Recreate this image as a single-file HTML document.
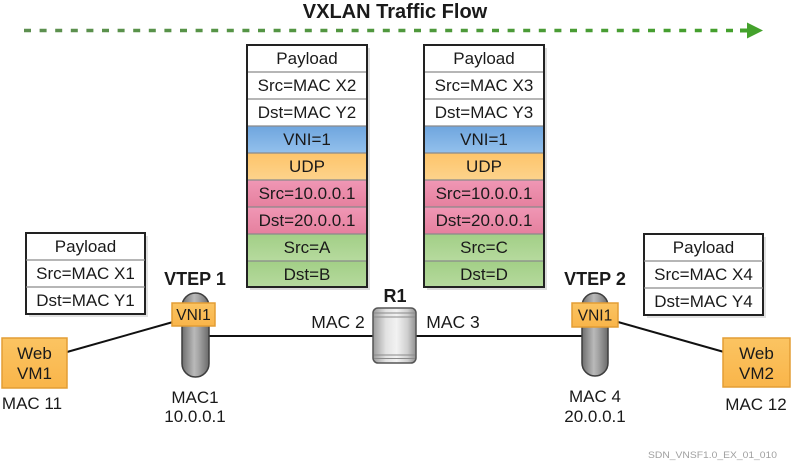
<!DOCTYPE html>
<html>
<head>
<meta charset="utf-8">
<style>
html,body{margin:0;padding:0;background:#fff;}
svg{display:block;}
text{font-family:"Liberation Sans",Arial,sans-serif;fill:#1a1a1a;}
</style>
</head>
<body>
<svg width="797" height="462" viewBox="0 0 797 462" xmlns="http://www.w3.org/2000/svg">
<defs>
  <linearGradient id="gline" gradientUnits="userSpaceOnUse" x1="24" y1="0" x2="742" y2="0">
    <stop offset="0" stop-color="#5d8f50"/>
    <stop offset="1" stop-color="#43a02c"/>
  </linearGradient>
  <linearGradient id="blue" x1="0" y1="0" x2="0" y2="1">
    <stop offset="0" stop-color="#6fa5de"/>
    <stop offset="1" stop-color="#93c0ec"/>
  </linearGradient>
  <linearGradient id="orange" x1="0" y1="0" x2="0" y2="1">
    <stop offset="0" stop-color="#fdc46a"/>
    <stop offset="1" stop-color="#fdd38c"/>
  </linearGradient>
  <linearGradient id="pink" x1="0" y1="0" x2="0" y2="1">
    <stop offset="0" stop-color="#f097b5"/>
    <stop offset="1" stop-color="#e5809e"/>
  </linearGradient>
  <linearGradient id="green" x1="0" y1="0" x2="0" y2="1">
    <stop offset="0" stop-color="#a2cf86"/>
    <stop offset="1" stop-color="#b6da9e"/>
  </linearGradient>
  <linearGradient id="vm" x1="0" y1="0" x2="0" y2="1">
    <stop offset="0" stop-color="#fbc462"/>
    <stop offset="1" stop-color="#f9b54a"/>
  </linearGradient>
  <linearGradient id="cyl" x1="0" y1="0" x2="1" y2="0">
    <stop offset="0" stop-color="#6e6e6e"/>
    <stop offset="0.45" stop-color="#b9b9b9"/>
    <stop offset="0.6" stop-color="#a8a8a8"/>
    <stop offset="1" stop-color="#6a6a6a"/>
  </linearGradient>
  <linearGradient id="rcyl" x1="0" y1="0" x2="1" y2="0">
    <stop offset="0" stop-color="#9a9a9a"/>
    <stop offset="0.3" stop-color="#e2e2e2"/>
    <stop offset="0.55" stop-color="#f2f2f2"/>
    <stop offset="0.8" stop-color="#cfcfcf"/>
    <stop offset="1" stop-color="#8f8f8f"/>
  </linearGradient>
</defs>

<!-- Title -->
<text x="395" y="18" font-size="20" font-weight="bold" text-anchor="middle">VXLAN Traffic Flow</text>

<!-- dotted flow arrow -->
<line x1="24" y1="30.5" x2="742" y2="30.5" stroke="url(#gline)" stroke-width="3.5" stroke-dasharray="7 8.6"/>
<polygon points="740,28.5 747,28.5 747,22.5 763,30.5 747,38.5 747,32.5 740,32.5" fill="#44a22c"/>

<!-- Left packet stack -->
<g>
  <rect x="250" y="48" width="120" height="242" fill="#cfcfcf" opacity="0.7"/>
  <rect x="247" y="45" width="120" height="27" fill="#fff"/>
  <rect x="247" y="72" width="120" height="27" fill="#fff"/>
  <rect x="247" y="99" width="120" height="27" fill="#fff"/>
  <rect x="247" y="126" width="120" height="27" fill="url(#blue)"/>
  <rect x="247" y="153" width="120" height="27" fill="url(#orange)"/>
  <rect x="247" y="180" width="120" height="27" fill="url(#pink)"/>
  <rect x="247" y="207" width="120" height="27" fill="url(#pink)"/>
  <rect x="247" y="234" width="120" height="27" fill="url(#green)"/>
  <rect x="247" y="261" width="120" height="26" fill="url(#green)"/>
  <g stroke="#8a8a8a" stroke-width="1.2">
    <line x1="247" y1="72" x2="367" y2="72"/>
    <line x1="247" y1="99" x2="367" y2="99"/>
    <line x1="247" y1="126" x2="367" y2="126"/>
    <line x1="247" y1="153" x2="367" y2="153"/>
    <line x1="247" y1="180" x2="367" y2="180"/>
    <line x1="247" y1="207" x2="367" y2="207"/>
    <line x1="247" y1="234" x2="367" y2="234"/>
    <line x1="247" y1="261" x2="367" y2="261"/>
  </g>
  <rect x="247" y="45" width="120" height="242" fill="none" stroke="#222" stroke-width="2"/>
  <g font-size="17" text-anchor="middle">
    <text x="307" y="64">Payload</text>
    <text x="307" y="91">Src=MAC X2</text>
    <text x="307" y="118">Dst=MAC Y2</text>
    <text x="307" y="145">VNI=1</text>
    <text x="307" y="172">UDP</text>
    <text x="307" y="199">Src=10.0.0.1</text>
    <text x="307" y="226">Dst=20.0.0.1</text>
    <text x="307" y="253">Src=A</text>
    <text x="307" y="280">Dst=B</text>
  </g>
</g>

<!-- Right packet stack -->
<g>
  <rect x="427" y="48" width="120" height="242" fill="#cfcfcf" opacity="0.7"/>
  <rect x="424" y="45" width="120" height="27" fill="#fff"/>
  <rect x="424" y="72" width="120" height="27" fill="#fff"/>
  <rect x="424" y="99" width="120" height="27" fill="#fff"/>
  <rect x="424" y="126" width="120" height="27" fill="url(#blue)"/>
  <rect x="424" y="153" width="120" height="27" fill="url(#orange)"/>
  <rect x="424" y="180" width="120" height="27" fill="url(#pink)"/>
  <rect x="424" y="207" width="120" height="27" fill="url(#pink)"/>
  <rect x="424" y="234" width="120" height="27" fill="url(#green)"/>
  <rect x="424" y="261" width="120" height="26" fill="url(#green)"/>
  <g stroke="#8a8a8a" stroke-width="1.2">
    <line x1="424" y1="72" x2="544" y2="72"/>
    <line x1="424" y1="99" x2="544" y2="99"/>
    <line x1="424" y1="126" x2="544" y2="126"/>
    <line x1="424" y1="153" x2="544" y2="153"/>
    <line x1="424" y1="180" x2="544" y2="180"/>
    <line x1="424" y1="207" x2="544" y2="207"/>
    <line x1="424" y1="234" x2="544" y2="234"/>
    <line x1="424" y1="261" x2="544" y2="261"/>
  </g>
  <rect x="424" y="45" width="120" height="242" fill="none" stroke="#222" stroke-width="2"/>
  <g font-size="17" text-anchor="middle">
    <text x="484" y="64">Payload</text>
    <text x="484" y="91">Src=MAC X3</text>
    <text x="484" y="118">Dst=MAC Y3</text>
    <text x="484" y="145">VNI=1</text>
    <text x="484" y="172">UDP</text>
    <text x="484" y="199">Src=10.0.0.1</text>
    <text x="484" y="226">Dst=20.0.0.1</text>
    <text x="484" y="253">Src=C</text>
    <text x="484" y="280">Dst=D</text>
  </g>
</g>

<!-- Left small payload box -->
<g>
  <rect x="29" y="236" width="119" height="81" fill="#d4d4d4" opacity="0.7"/>
  <rect x="26" y="233" width="119" height="81" fill="#fff" stroke="#222" stroke-width="2"/>
  <line x1="26" y1="260" x2="145" y2="260" stroke="#8a8a8a" stroke-width="1.2"/>
  <line x1="26" y1="287" x2="145" y2="287" stroke="#8a8a8a" stroke-width="1.2"/>
  <g font-size="17" text-anchor="middle">
    <text x="85.5" y="252">Payload</text>
    <text x="85.5" y="279">Src=MAC X1</text>
    <text x="85.5" y="306">Dst=MAC Y1</text>
  </g>
</g>

<!-- Right small payload box -->
<g>
  <rect x="647" y="237" width="119" height="81" fill="#d4d4d4" opacity="0.7"/>
  <rect x="644" y="234" width="119" height="81" fill="#fff" stroke="#222" stroke-width="2"/>
  <line x1="644" y1="261" x2="763" y2="261" stroke="#8a8a8a" stroke-width="1.2"/>
  <line x1="644" y1="288" x2="763" y2="288" stroke="#8a8a8a" stroke-width="1.2"/>
  <g font-size="17" text-anchor="middle">
    <text x="703.5" y="253">Payload</text>
    <text x="703.5" y="280">Src=MAC X4</text>
    <text x="703.5" y="307">Dst=MAC Y4</text>
  </g>
</g>

<!-- connecting lines -->
<g stroke="#111" stroke-width="2">
  <line x1="67" y1="352" x2="173" y2="322"/>
  <line x1="209" y1="336" x2="374" y2="336"/>
  <line x1="416" y1="336" x2="582" y2="336"/>
  <line x1="618" y1="322" x2="724" y2="352"/>
</g>

<!-- VTEP 1 -->
<text x="195" y="285" font-size="18" font-weight="bold" text-anchor="middle">VTEP 1</text>
<rect x="182" y="293" width="27" height="84" rx="13.5" fill="url(#cyl)" stroke="#3e3e3e" stroke-width="1.5"/>
<rect x="172" y="303" width="43" height="23" fill="url(#vm)" stroke="#e39d35" stroke-width="1.5"/>
<text x="193.5" y="320" font-size="15.5" text-anchor="middle">VNI1</text>
<text x="195" y="403" font-size="17" text-anchor="middle">MAC1</text>
<text x="195" y="422" font-size="17" text-anchor="middle">10.0.0.1</text>

<!-- VTEP 2 -->
<text x="595" y="285" font-size="18" font-weight="bold" text-anchor="middle">VTEP 2</text>
<rect x="582" y="293" width="26" height="83" rx="13" fill="url(#cyl)" stroke="#3e3e3e" stroke-width="1.5"/>
<rect x="572" y="303" width="46" height="24" fill="url(#vm)" stroke="#e39d35" stroke-width="1.5"/>
<text x="595" y="320.5" font-size="15.5" text-anchor="middle">VNI1</text>
<text x="595" y="402" font-size="17" text-anchor="middle">MAC 4</text>
<text x="595" y="422" font-size="17" text-anchor="middle">20.0.0.1</text>

<!-- R1 -->
<text x="395" y="302" font-size="18" font-weight="bold" text-anchor="middle">R1</text>
<text x="338" y="328" font-size="17.5" text-anchor="middle">MAC 2</text>
<text x="453" y="328" font-size="17.5" text-anchor="middle">MAC 3</text>
<rect x="373" y="308" width="43" height="55" rx="5" fill="url(#rcyl)" stroke="#555" stroke-width="1.5"/>
<g stroke="#8a8a8a" stroke-width="1">
  <line x1="374" y1="313" x2="415" y2="313"/>
  <line x1="374" y1="317" x2="415" y2="317"/>
  <line x1="374" y1="355" x2="415" y2="355"/>
  <line x1="374" y1="358.5" x2="415" y2="358.5"/>
</g>

<!-- Web VM1 -->
<rect x="2" y="338" width="65" height="50" fill="url(#vm)" stroke="#e39d35" stroke-width="1.5"/>
<text x="34.5" y="359" font-size="17" text-anchor="middle">Web</text>
<text x="34.5" y="379" font-size="17" text-anchor="middle">VM1</text>
<text x="32" y="409" font-size="17" text-anchor="middle">MAC 11</text>

<!-- Web VM2 -->
<rect x="723" y="338" width="67" height="49" fill="url(#vm)" stroke="#e39d35" stroke-width="1.5"/>
<text x="756.5" y="359" font-size="17" text-anchor="middle">Web</text>
<text x="756.5" y="379" font-size="17" text-anchor="middle">VM2</text>
<text x="756" y="410" font-size="17" text-anchor="middle">MAC 12</text>

<!-- watermark -->
<text x="648" y="458" font-size="9.5" style="fill:#a0a0a0" textLength="129" lengthAdjust="spacingAndGlyphs">SDN_VNSF1.0_EX_01_010</text>
</svg>
</body>
</html>
